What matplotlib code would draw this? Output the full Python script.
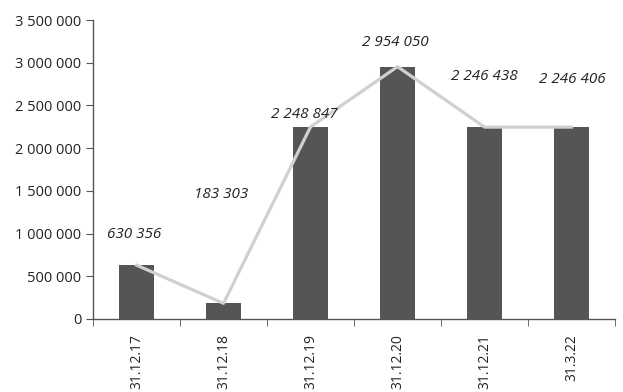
import numpy as np
import matplotlib.pyplot as plt
import matplotlib.ticker as ticker

# data
dates = ["31.12.17", "31.12.18", "31.12.19", "31.12.20", "31.12.21", "31.3.22"]
values = [630356, 183303, 2248847, 2954050, 2246438, 2246406]
# label offsets in pixels (dx, dy) relative to each point
lbl_dx = [-2, -2, -6, -2, 0, 1]
lbl_dy = [23, 101, 5, 17, 43, 40]

plt.rcParams['font.family'] = ['Open Sans', 'DejaVu Sans']

fig = plt.figure(figsize=(6.23, 3.92), dpi=100)
ax = fig.add_axes([93/623, 73/392, 522/623, 299/392])

x = np.arange(len(dates))
ax.bar(x, values, width=0.4, color='#555555', zorder=2)
ax.plot(x, values, color='#d0d0d0', lw=2.3, zorder=3)

def fmt(v):
    return "{:,}".format(int(v)).replace(",", " ")

for i, v in enumerate(values):
    ax.annotate(fmt(v), xy=(x[i], v), xytext=(lbl_dx[i]*0.72, lbl_dy[i]*0.72),
                textcoords='offset points', ha='center', va='bottom',
                fontsize=11, style='italic', color='#222222')

ax.set_xlim(-0.5, len(dates) - 0.5)
ax.set_ylim(0, 3500000)
ax.yaxis.set_major_locator(ticker.MultipleLocator(500000))
ax.yaxis.set_major_formatter(ticker.FuncFormatter(lambda v, p: fmt(v)))
ax.set_xticks(x)
ax.set_xticklabels(dates, rotation=90, fontsize=10, color='#222222')
ax.set_xticks(np.arange(-0.5, len(dates)), minor=True)
ax.tick_params(axis='x', which='major', length=0, pad=11)
ax.tick_params(axis='x', which='minor', length=5, color='#555555', direction='out')
ax.tick_params(axis='y', length=5, color='#555555', labelsize=10.5, labelcolor='#222222')

for s in ['top', 'right']:
    ax.spines[s].set_visible(False)
for s in ['left', 'bottom']:
    ax.spines[s].set_color('#555555')
    ax.spines[s].set_linewidth(1)

fig.savefig("out.png", dpi=100)
